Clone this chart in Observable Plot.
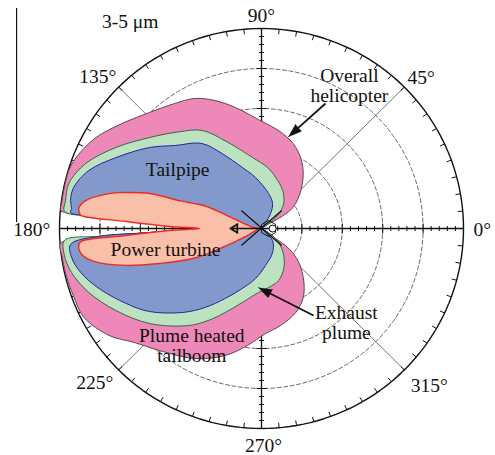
<!DOCTYPE html>
<html><head><meta charset="utf-8">
<script src="https://cdn.jsdelivr.net/npm/d3@7"></script>
<script src="https://cdn.jsdelivr.net/npm/@observablehq/plot@0.6"></script>
<style>body{margin:0;background:#fff}#chart{width:495px;height:455px}</style>
</head><body><div id="chart"></div>
<script>
// ---- data (angle in degrees, radius in chart units, outer ring = 200) ----
const bandTitle = "3-5 μm";
const angleTicks = [0, 45, 90, 135, 180, 225, 270, 315];
const angleTickLabels = ["0°", "45°", "90°", "135°", "180°", "225°", "270°", "315°"];
const ringRadii = [40, 80, 120, 160];
const outerRadius = 200;

const overallHelicopter = [[0,0],[33,8],[30.5,19.7],[34,37.4],[44.3,54.5],[56.1,73.5],[67.2,87.8],[77.5,97.3],[91.6,109],[102.1,123.8],[109.8,136],[116.9,145.8],[124.5,151.7],[133.7,160.5],[142.1,172.4],[150,185.9],[155.6,193.3],[161.7,199],[167,199.5],[172.8,199.5],[174.8,199.5],[175.7,161.4],[176.9,111.2],[180,61],[182.1,111.1],[182.8,161.2],[184.3,199.5],[187.8,199.5],[193.4,199],[200,198],[206.8,197],[215.3,185],[222.1,169.9],[230.4,158.4],[243.1,145.8],[254.2,132],[263.2,117.8],[272.2,105.1],[281.1,98.8],[292,90.6],[300.4,81.1],[307.9,68.4],[317.4,50.2],[323.5,33.6],[324.5,17.2],[327,8],[360,0]];
const exhaustPlume = [[0,0],[35.5,8.6],[39.1,20.6],[48.7,33.3],[61.1,43.4],[74.6,52.9],[84.4,61.3],[97.2,71.6],[111,92.1],[121,114.4],[130.5,127],[140.7,143.5],[150.6,165.2],[159.5,185.7],[166.7,196],[171.8,196],[175,195.7],[175.7,161.4],[176.9,111.2],[180,61],[182.1,111.1],[182.8,161.2],[183.5,195.4],[187.8,197],[193.2,193.1],[200.5,182.6],[209.7,165.7],[220.6,146],[233.1,121.4],[240.1,106.2],[246.8,91.4],[255.6,76.4],[267.3,64.1],[276.8,59.4],[288.1,54.7],[298.8,45.7],[309.2,34.8],[320.5,22],[330,8],[360,0]];
const tailpipe = [[0,0],[56,7.2],[59,17.5],[66.3,27.3],[78.7,35.7],[96.7,51.4],[107.3,63.9],[117.5,84.5],[124.8,103.5],[136,119.5],[143.9,137.4],[153.8,160.6],[161.3,180.6],[167.6,190.5],[171.6,191.1],[173.9,189.1],[175.2,189.7],[175.7,161.4],[176.9,111.2],[180,61],[182.1,111.1],[182.8,161.2],[184.8,189.7],[188.8,190.2],[193.8,184.3],[200.4,171.8],[209.2,153.6],[216.8,138.6],[227.1,114.6],[234.7,96.8],[242.8,78.7],[252.4,62.9],[263.2,50.4],[276.2,37.2],[294.6,26.4],[312.5,16.3],[315,5.7],[360,0]];
const powerTurbine = [[0,0],[173,8],[159.1,36.4],[158,60],[161,85],[162.5,116.4],[165.4,142.6],[167,155],[170.9,176.2],[173.7,182.1],[175.2,180.6],[175.8,179.5],[177,134.2],[178.7,91],[180,61],[181.3,91],[183,134.2],[184.2,179.5],[185.4,181.8],[188.3,179.9],[191.2,169.2],[195.4,139],[199.1,106.9],[203.8,74.3],[206,45.6],[206.6,15.7],[190,3],[0,0]];

const regionNames = ["Overall\nhelicopter", "Exhaust\nplume", "Plume heated\ntailboom", "Tailpipe", "Power turbine"];
const arrowOverall = [[63.4,125],[26.7,92]];
const arrowExhaust = [[51.5,-87],[-3,-59]];
const rotorBlades = [[-20,18,20,-17],[20,18,-20,-17]];
const tailArrow = [[0,0],[-31,0]];

// ---- helpers ----
const rad = a => a * Math.PI / 180;
const toXY = ([a, r]) => ({x: r * Math.cos(rad(a)), y: r * Math.sin(rad(a))});
const circle = r => d3.range(0, 361, 2).map(a => toXY([a, r]));

const rings = ringRadii.flatMap(r => circle(r).map(p => ({...p, ring: r})));
const outer = circle(outerRadius);
const outerTicks = d3.range(0, 360, 5).map(a => {
  const p = toXY([a, outerRadius]), q = toXY([a, outerRadius - 5]);
  return {x1: p.x, y1: p.y, x2: q.x, y2: q.y};
});
const diagonals = [45, 135, 225, 315].map(a => {
  const p = toXY([a, outerRadius]);
  return {x1: 0, y1: 0, x2: p.x, y2: p.y};
});
const axisTicks = [];
for (let v = -192; v <= 192; v += 8) {
  if (v === 0) continue;
  const h = v % 40 === 0 ? 5 : 2.5;
  axisTicks.push({x1: v, y1: -h, x2: v, y2: h});
  axisTicks.push({x1: -h, y1: v, x2: h, y2: v});
}
function head([from, to], len = 13, half = 4.5) {
  const dx = to[0] - from[0], dy = to[1] - from[1], L = Math.hypot(dx, dy);
  const ux = dx / L, uy = dy / L, bx = to[0] - ux * len, by = to[1] - uy * len;
  return {shaft: {x1: from[0], y1: from[1], x2: bx, y2: by},
    tri: [{x: to[0], y: to[1]}, {x: bx - uy * half, y: by + ux * half}, {x: bx + uy * half, y: by - ux * half}]};
}
const h1 = head(arrowOverall), h2 = head(arrowExhaust);

const labelPlace = {0: [210, -1, "start"], 45: [158, 151], 90: [0, 213], 135: [-162, 152], 180: [-209, -1, "end"], 225: [-165, -154], 270: [2, -217], 315: [166, -157]};
const angleLabelData = angleTicks.map((a, i) => ({a, t: angleTickLabels[i], x: labelPlace[a][0], y: labelPlace[a][1], anchor: labelPlace[a][2] || "middle"}));
const regionPlace = [[87, 143], [84, -94], [-69, -117], [-83, 59], [-95, -21]];
const regionLabels = regionNames.map((t, i) => ({t, x: regionPlace[i][0], y: regionPlace[i][1]}));

const shape = (data, fill, stroke, sw) => Plot.line(data.map(toXY), {x: "x", y: "y", fill, stroke, strokeWidth: sw, curve: "catmull-rom"});
const FS = 19.5;
const angleText = anchor => Plot.text(angleLabelData.filter(d => d.anchor === anchor), {x: "x", y: "y", text: "t", fontSize: FS, fill: "#111", textAnchor: anchor});

const chart = Plot.plot({
  width: 495, height: 455,
  marginLeft: 59, marginRight: 32, marginTop: 28, marginBottom: 27,
  x: {domain: [-200, 200], axis: null},
  y: {domain: [-200, 200], axis: null},
  style: {fontFamily: "'Liberation Serif', 'Times New Roman', serif", background: "#fff", overflow: "visible"},
  marks: [
    Plot.line(rings, {x: "x", y: "y", z: "ring", stroke: "#444", strokeWidth: 0.8, strokeDasharray: "4,2.5"}),
    Plot.link(diagonals, {x1: "x1", y1: "y1", x2: "x2", y2: "y2", stroke: "#666", strokeWidth: 0.9}),
    Plot.ruleY([0], {x1: -200, x2: 200, stroke: "#111", strokeWidth: 1.3}),
    Plot.ruleX([0], {y1: -200, y2: 200, stroke: "#111", strokeWidth: 1.3}),
    Plot.link(axisTicks, {x1: "x1", y1: "y1", x2: "x2", y2: "y2", stroke: "#111", strokeWidth: 1}),
    Plot.line(outer, {x: "x", y: "y", stroke: "#111", strokeWidth: 1.4}),
    Plot.link(outerTicks, {x1: "x1", y1: "y1", x2: "x2", y2: "y2", stroke: "#111", strokeWidth: 1}),
    shape(overallHelicopter, "#ee88b8", "#5e4652", 1),
    shape(exhaustPlume, "#bde2bf", "#2f6a45", 1),
    shape(tailpipe, "#8499cb", "#24239a", 1),
    shape(powerTurbine, "#fabfa9", "#ec2a22", 1.4),
    Plot.link(rotorBlades, {x1: d => d[0], y1: d => d[1], x2: d => d[2], y2: d => d[3], stroke: "#111", strokeWidth: 1.2}),
    Plot.arrow([tailArrow], {x1: d => d[0][0], y1: d => d[0][1], x2: d => d[1][0], y2: d => d[1][1], stroke: "#111", strokeWidth: 1.6, headLength: 8}),
    Plot.link([[-24]], {x1: d => d[0], x2: d => d[0], y1: -5, y2: 5, stroke: "#111", strokeWidth: 1.6}),
    Plot.dot([[7, 0]], {x: d => d[0], y: d => d[1], r: 7, symbol: "hexagon", stroke: "#111", fill: "none", strokeWidth: 1}),
    Plot.dot([[11, 0]], {x: d => d[0], y: d => d[1], r: 3.5, stroke: "#111", fill: "white", strokeWidth: 1}),
    Plot.link([h1.shaft, h2.shaft], {x1: "x1", y1: "y1", x2: "x2", y2: "y2", stroke: "#111", strokeWidth: 1.8}),
    Plot.line(h1.tri, {x: "x", y: "y", fill: "#111", stroke: "#111", strokeWidth: 0.8}),
    Plot.line(h2.tri, {x: "x", y: "y", fill: "#111", stroke: "#111", strokeWidth: 0.8}),
    Plot.text(regionLabels, {x: "x", y: "y", text: "t", fontSize: FS, fill: "#111", lineHeight: 1.03, textAnchor: "middle"}),
    angleText("middle"), angleText("start"), angleText("end"),
    Plot.text([bandTitle], {x: -130, y: 207, text: d => d, fontSize: FS, fill: "#111"}),
    Plot.ruleX([-242.5], {y1: 6, y2: 220, stroke: "#111", strokeWidth: 1.2})
  ]
});
document.getElementById("chart").append(chart);
</script></body></html>
